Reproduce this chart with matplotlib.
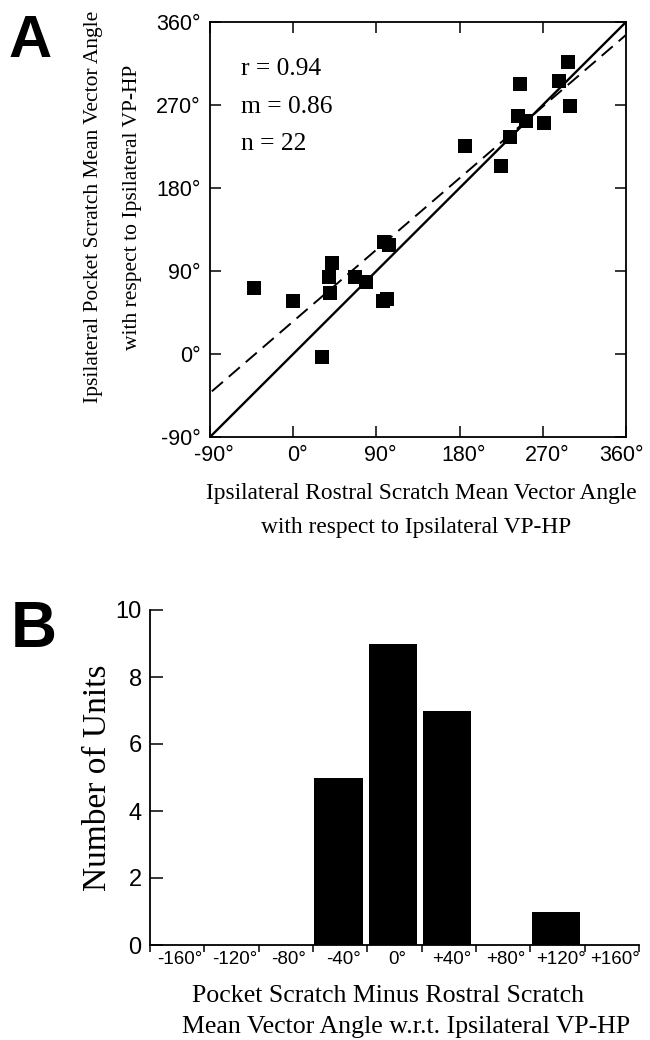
import matplotlib
matplotlib.use('Agg')
import matplotlib.pyplot as plt
import matplotlib.transforms as mtransforms

# Панель A: угол ростральной и карманной реакций (градусы)
rostral = [-42, 0, 31, 40, 39, 42, 67, 79, 98, 104, 97, 101,
           186, 225, 234, 243, 252, 245, 271, 288, 297, 299]
pocket = [72, 57, -3, 66, 84, 99, 84, 78, 121, 118, 57, 60,
          226, 204, 235, 258, 253, 293, 251, 296, 317, 269]
unity = [-90, 360]
fit_x = [-88, 360]
fit_y = [-40.5, 346]
stats = ['r = 0.94', 'm = 0.86', 'n = 22']
angle_ticks = [-90, 0, 90, 180, 270, 360]
angle_labels = ['-90°', '0°', '90°', '180°', '270°', '360°']

# Панель B: гистограмма разностей
bin_edges = [-180, -140, -100, -60, -20, 20, 60, 100, 140, 180]
bin_centers = [-160, -120, -80, -40, 0, 40, 80, 120, 160]
bin_labels = ['-160°', '-120°', '-80°', '-40°', '0°', '+40°', '+80°', '+120°', '+160°']
counts = [0, 0, 0, 5, 9, 7, 0, 1, 0]
count_ticks = [0, 2, 4, 6, 8, 10]

W, H = 650, 1040
serif = 'Liberation Serif'
sans = 'Liberation Sans'


def px(x, y):
    return x / W, 1 - y / H


def shift_label(lab, dx):
    lab.set_transform(lab.get_transform() + mtransforms.ScaledTranslation(dx / 100, 0, fig.dpi_scale_trans))


fig = plt.figure(figsize=(6.5, 10.4), dpi=100, facecolor='white')

# ---------- A ----------
ax = fig.add_axes([210 / W, 1 - 437 / H, 416 / W, 415 / H])
ax.plot(unity, unity, color='black', lw=1.7, solid_capstyle='butt')
ax.plot(fit_x, fit_y, color='black', lw=1.4, linestyle=(0, (7.5, 4)))
ax.plot(rostral, pocket, 's', color='black', markersize=10, markeredgewidth=0)
ax.set_xlim(-90, 360)
ax.set_ylim(-90, 360)
ax.set_xticks(angle_ticks)
ax.set_yticks(angle_ticks)
ax.set_xticklabels(angle_labels, fontfamily=sans, fontsize=15.5)
ax.set_yticklabels(angle_labels, fontfamily=sans, fontsize=15.5)
ax.tick_params(direction='in', length=8, width=1.1, top=True, right=True)
ax.tick_params(axis='x', pad=6)
ax.tick_params(axis='y', pad=7)
for s in ax.spines.values():
    s.set_linewidth(1.3)
xlabs = ax.get_xticklabels()
for lab in xlabs[:-1]:
    shift_label(lab, 4)
shift_label(xlabs[-1], -5)

for txt, yb in zip(stats, [75, 113, 150]):
    fig.text(*px(241, yb), txt, fontfamily=serif, fontsize=18.4, va='baseline', ha='left')

fig.text(*px(94, 207), 'Ipsilateral Pocket Scratch Mean Vector Angle', rotation=90,
         fontfamily=serif, fontsize=15.5, ha='center', va='center')
fig.text(*px(132, 207), 'with respect to Ipsilateral VP-HP', rotation=90,
         fontfamily=serif, fontsize=15.5, ha='center', va='center')
fig.text(*px(421, 499), 'Ipsilateral Rostral Scratch Mean Vector Angle',
         fontfamily=serif, fontsize=16.8, ha='center', va='baseline')
fig.text(*px(416, 533), 'with respect to Ipsilateral VP-HP',
         fontfamily=serif, fontsize=16.8, ha='center', va='baseline')

fig.text(*px(9, 57), 'A', fontfamily=sans, fontsize=43, weight='bold', va='baseline', ha='left')

# ---------- B ----------
bx = fig.add_axes([150 / W, 1 - 945 / H, 489 / W, 335 / H])
bx.bar([c - 19 for c in bin_centers], counts, width=35.6, align='edge', color='black', linewidth=0)
bx.set_xlim(-180, 180)
bx.set_ylim(0, 10)
bx.spines['top'].set_visible(False)
bx.spines['right'].set_visible(False)
for s in ('left', 'bottom'):
    bx.spines[s].set_linewidth(1.3)
bx.set_xticks(bin_edges)
bx.set_xticklabels([])
bx.set_xticks(bin_centers, minor=True)
bx.set_xticklabels(bin_labels, minor=True, fontfamily=sans, fontsize=13.5)
bx.tick_params(axis='x', which='major', direction='out', length=5, width=1.1)
bx.tick_params(axis='x', which='minor', length=0, pad=4)
bx.set_yticks(count_ticks)
bx.set_yticklabels([str(t) for t in count_ticks], fontfamily=sans, fontsize=17)
bx.tick_params(axis='y', direction='in', length=9, width=1.1, pad=6)
for lab in bx.get_xticklabels(minor=True):
    shift_label(lab, 3)

fig.text(*px(98, 778), 'Number of Units', rotation=90, fontfamily=serif, fontsize=24,
         ha='center', va='center')
fig.text(*px(388, 1002), 'Pocket Scratch Minus Rostral Scratch',
         fontfamily=serif, fontsize=18.6, ha='center', va='baseline')
fig.text(*px(406, 1033), 'Mean Vector Angle w.r.t. Ipsilateral VP-HP',
         fontfamily=serif, fontsize=18.6, ha='center', va='baseline')

fig.text(*px(11, 647), 'B', fontfamily=sans, fontsize=46, weight='bold', va='baseline', ha='left')

fig.savefig('out.png', dpi=100, facecolor='white')
